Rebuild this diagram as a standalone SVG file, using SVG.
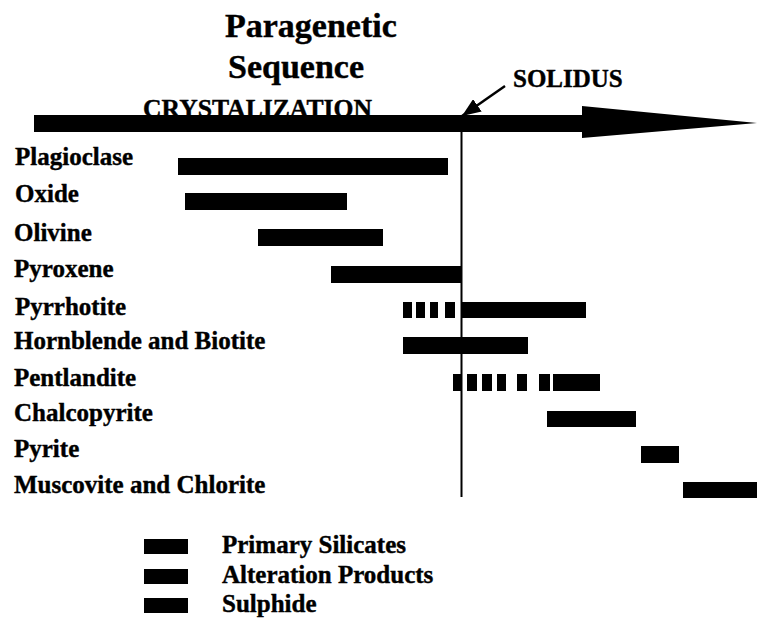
<svg xmlns="http://www.w3.org/2000/svg" width="757" height="633" viewBox="0 0 757 633">
<style>
text{font-family:"Liberation Serif","Times New Roman",serif;font-weight:bold;fill:#000;stroke:#000;stroke-width:0.4}
.lbl{font-size:25px}
.ttl{font-size:34px}
.bar{fill:#000}
</style>
<defs>
<marker id="ah" viewBox="0 0 10 8" refX="10" refY="4" markerWidth="7.5" markerHeight="6" markerUnits="strokeWidth" orient="auto">
<path d="M0,0 L10,4 L0,8 z" fill="#000"/>
</marker>
</defs>
<rect width="757" height="633" fill="#fff"/>
<g id="title">
<text class="ttl" x="225" y="37">Paragenetic</text>
<text class="ttl" x="228" y="78">Sequence</text>
</g>
<g id="crystalization-axis">
<text class="lbl" x="143" y="117" textLength="229" lengthAdjust="spacingAndGlyphs">CRYSTALIZATION</text>
<rect x="34" y="115" width="550" height="17" fill="#000"/>
<polygon points="582,106 757,123 582,138" fill="#000"/>
</g>
<g id="solidus">
<text class="lbl" x="513" y="87">SOLIDUS</text>
<line x1="461.5" y1="130" x2="461.5" y2="497" stroke="#000" stroke-width="2"/>
</g>
<g id="connectors">
<line x1="505" y1="86" x2="462" y2="116" stroke="#000" stroke-width="2.5" marker-end="url(#ah)"/>
</g>
<g id="plagioclase"><text class="lbl" x="15" y="165">Plagioclase</text><rect class="bar" x="178" y="158" width="270" height="17"/></g>
<g id="oxide"><text class="lbl" x="15" y="202">Oxide</text><rect class="bar" x="185" y="193" width="162" height="17"/></g>
<g id="olivine"><text class="lbl" x="14" y="241">Olivine</text><rect class="bar" x="258" y="229" width="125" height="17"/></g>
<g id="pyroxene"><text class="lbl" x="14" y="277">Pyroxene</text><rect class="bar" x="331" y="266" width="130" height="17"/></g>
<g id="pyrrhotite"><text class="lbl" x="15" y="315">Pyrrhotite</text>
<rect class="bar" x="403" y="302" width="9" height="16"/><rect class="bar" x="416" y="302" width="9" height="16"/><rect class="bar" x="430" y="302" width="8" height="16"/><rect class="bar" x="445" y="302" width="10" height="16"/>
<rect class="bar" x="462" y="302" width="124" height="16"/></g>
<g id="hornblende-biotite"><text class="lbl" x="14" y="349">Hornblende and Biotite</text><rect class="bar" x="403" y="337" width="125" height="17"/></g>
<g id="pentlandite"><text class="lbl" x="14" y="386">Pentlandite</text>
<rect class="bar" x="453" y="374" width="9" height="17"/><rect class="bar" x="467" y="374" width="10" height="17"/><rect class="bar" x="482" y="374" width="10" height="17"/><rect class="bar" x="497" y="374" width="9" height="17"/><rect class="bar" x="517" y="374" width="10" height="17"/><rect class="bar" x="539" y="374" width="11" height="17"/>
<rect class="bar" x="553" y="374" width="47" height="17"/></g>
<g id="chalcopyrite"><text class="lbl" x="14" y="421">Chalcopyrite</text><rect class="bar" x="547" y="411" width="89" height="16"/></g>
<g id="pyrite"><text class="lbl" x="14" y="457">Pyrite</text><rect class="bar" x="641" y="446" width="38" height="17"/></g>
<g id="muscovite-chlorite"><text class="lbl" x="14" y="493">Muscovite and Chlorite</text><rect class="bar" x="683" y="482" width="74" height="16"/></g>
<g id="legend">
<rect class="bar" x="144" y="539" width="44" height="15"/><text class="lbl" x="222" y="553">Primary Silicates</text>
<rect class="bar" x="144" y="569" width="44" height="15"/><text class="lbl" x="222" y="583">Alteration Products</text>
<rect class="bar" x="144" y="598" width="44" height="15"/><text class="lbl" x="222" y="612">Sulphide</text>
</g>
</svg>
